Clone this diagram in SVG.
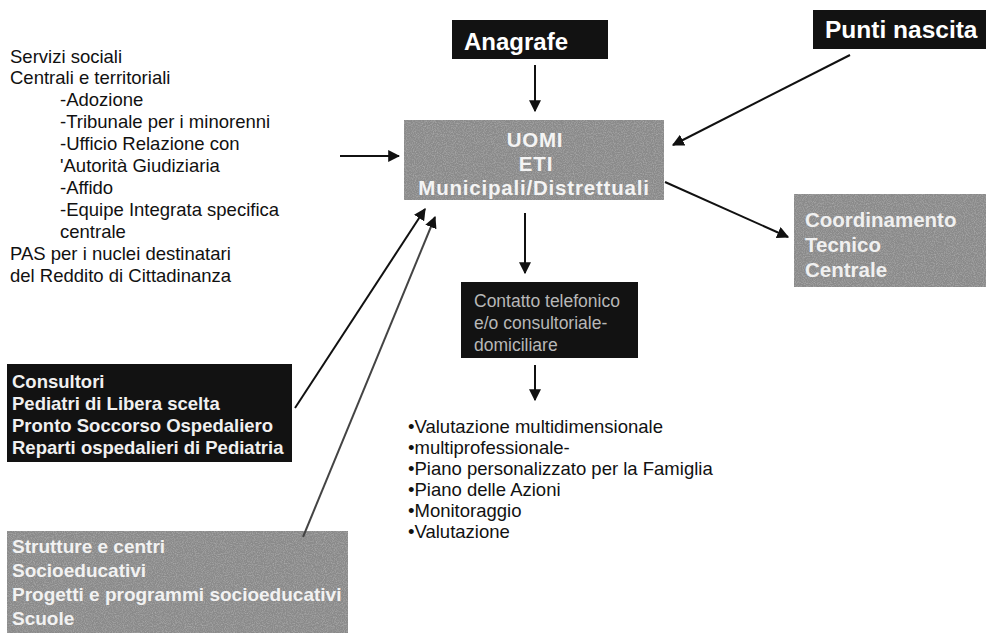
<svg xmlns="http://www.w3.org/2000/svg" width="986" height="633" viewBox="0 0 986 633">
<style>
.txt{font-family:"Liberation Sans",Arial,sans-serif;fill:#111;font-size:18.5px}
.b{font-family:"Liberation Sans",Arial,sans-serif;font-weight:bold}
.dark{fill:#121212}
.gray{fill:#8a8a8a}
.conn line{stroke:#111;stroke-width:2;marker-end:url(#ah)}
</style>
<defs>
<marker id="ah" viewBox="0 0 10 10" refX="9" refY="5" markerWidth="6" markerHeight="6" orient="auto" markerUnits="strokeWidth">
<path d="M0,0 L10,5 L0,10 z" fill="#111"/>
</marker>
<filter id="noise" x="0" y="0" width="1" height="1">
<feTurbulence type="fractalNoise" baseFrequency="0.9" numOctaves="2" seed="3" result="t"/>
<feColorMatrix in="t" type="matrix" values="0 0 0 0 0.4  0 0 0 0 0.4  0 0 0 0 0.4  0 0 0 2 -0.8" result="n"/>
<feComposite in="n" in2="SourceGraphic" operator="in" result="nc"/>
<feMerge><feMergeNode in="SourceGraphic"/><feMergeNode in="nc"/></feMerge>
</filter>
</defs>
<rect width="986" height="633" fill="#fff"/>

<g id="servizi">
<text class="txt" x="10" y="62.5">Servizi sociali</text>
<text class="txt" x="10" y="84.4">Centrali e territoriali</text>
<text class="txt" x="60" y="106.3">-Adozione</text>
<text class="txt" x="60" y="128.2">-Tribunale per i minorenni</text>
<text class="txt" x="60" y="150.1">-Ufficio Relazione con</text>
<text class="txt" x="60" y="172">'Autorità Giudiziaria</text>
<text class="txt" x="60" y="193.9">-Affido</text>
<text class="txt" x="60" y="215.8">-Equipe Integrata specifica</text>
<text class="txt" x="60" y="237.7">centrale</text>
<text class="txt" x="10" y="259.6">PAS per i nuclei destinatari</text>
<text class="txt" x="10" y="281.5">del Reddito di Cittadinanza</text>
</g>

<g id="anagrafe">
<rect class="dark" x="452" y="20" width="156" height="39"/>
<text class="b" x="464" y="50" font-size="24" fill="#fff">Anagrafe</text>
</g>

<g id="punti">
<rect class="dark" x="813" y="10" width="173" height="39"/>
<text class="b" x="825" y="38" font-size="24.5" fill="#fff">Punti nascita</text>
</g>

<g id="uomi">
<rect class="gray" x="404" y="120" width="260" height="80" filter="url(#noise)"/>
<text class="b" x="535" y="147" font-size="20.5" letter-spacing="0.8" text-anchor="middle" fill="#f4f4f4">UOMI</text>
<text class="b" x="536" y="171" font-size="20.5" letter-spacing="0.8" text-anchor="middle" fill="#f4f4f4">ETI</text>
<text class="b" x="534" y="195" font-size="20.5" letter-spacing="0.8" text-anchor="middle" fill="#f4f4f4">Municipali/Distrettuali</text>
</g>

<g id="coordinamento">
<rect class="gray" x="794" y="194" width="192" height="93" filter="url(#noise)"/>
<text class="b" x="805" y="227" font-size="20.5" fill="#f0f0f0">Coordinamento</text>
<text class="b" x="805" y="252" font-size="20.5" fill="#f0f0f0">Tecnico</text>
<text class="b" x="805" y="277" font-size="20.5" fill="#f0f0f0">Centrale</text>
</g>

<g id="contatto">
<rect class="dark" x="461" y="282" width="177" height="76"/>
<text x="474" y="307" font-family="Liberation Sans,Arial,sans-serif" font-size="17.5" fill="#b8b8b8">Contatto telefonico</text>
<text x="474" y="329" font-family="Liberation Sans,Arial,sans-serif" font-size="17.5" fill="#b8b8b8">e/o consultoriale-</text>
<text x="474" y="351" font-family="Liberation Sans,Arial,sans-serif" font-size="17.5" fill="#b8b8b8">domiciliare</text>
</g>

<g id="valutazione">
<text class="txt" x="408" y="433">•Valutazione multidimensionale</text>
<text class="txt" x="408" y="454">•multiprofessionale-</text>
<text class="txt" x="408" y="475">•Piano personalizzato per la Famiglia</text>
<text class="txt" x="408" y="496">•Piano delle Azioni</text>
<text class="txt" x="408" y="517">•Monitoraggio</text>
<text class="txt" x="408" y="538">•Valutazione</text>
</g>

<g id="consultori">
<rect class="dark" x="7" y="364" width="285" height="98"/>
<text class="b" x="12" y="388" font-size="18.5" fill="#f0f0f0">Consultori</text>
<text class="b" x="12" y="410" font-size="18.5" fill="#f0f0f0">Pediatri di Libera scelta</text>
<text class="b" x="12" y="432" font-size="18.5" fill="#f0f0f0">Pronto Soccorso Ospedaliero</text>
<text class="b" x="12" y="454" font-size="18.5" fill="#f0f0f0">Reparti ospedalieri di Pediatria</text>
</g>

<g id="strutture">
<rect class="gray" x="7" y="531" width="341" height="102" filter="url(#noise)"/>
<text class="b" x="12" y="553" font-size="19" fill="#f2f2f2">Strutture e centri</text>
<text class="b" x="12" y="577" font-size="19" fill="#f2f2f2">Socioeducativi</text>
<text class="b" x="12" y="601" font-size="19" fill="#f2f2f2">Progetti e programmi socioeducativi</text>
<text class="b" x="12" y="625" font-size="19" fill="#f2f2f2">Scuole</text>
</g>

<g id="connectors" class="conn">
<line x1="535" y1="65" x2="535" y2="111"/>
<line x1="850" y1="55" x2="673" y2="145"/>
<line x1="340" y1="156" x2="399" y2="156"/>
<line x1="665" y1="182" x2="788" y2="237"/>
<line x1="525" y1="213" x2="525" y2="273"/>
<line x1="535" y1="365" x2="535" y2="400"/>
<line x1="295" y1="408" x2="425" y2="209"/>
<line x1="303" y1="537" x2="435" y2="217" style="stroke:#444"/>
</g>
</svg>
